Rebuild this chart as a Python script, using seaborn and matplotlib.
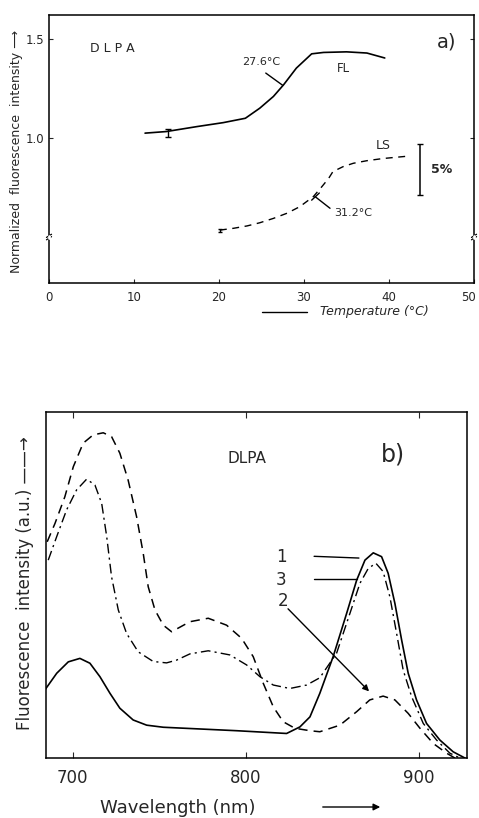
import matplotlib
matplotlib.use("Agg")
import matplotlib.pyplot as plt
from matplotlib.transforms import ScaledTranslation
import seaborn as sns
import pandas as pd

# ---------------- Data: panel a ----------------
fl_temp = [11.3, 13.8, 17.4, 20.5, 23.1, 24.8, 26.4, 27.6, 29.1, 30.9, 32.3, 35.0, 37.4, 39.5]
fl_int = [1.024, 1.032, 1.057, 1.077, 1.099, 1.150, 1.209, 1.268, 1.352, 1.424, 1.431, 1.434, 1.428, 1.403]
ls_temp = [20.1, 21.7, 23.3, 24.8, 26.4, 28.0, 29.5, 31.1, 32.1, 32.9, 33.4, 34.6, 35.8, 37.4, 39.3, 42.5]
ls_int = [0.535, 0.544, 0.556, 0.572, 0.594, 0.620, 0.653, 0.704, 0.754, 0.796, 0.830, 0.855,
          0.872, 0.885, 0.896, 0.909]
a_xticks = [0, 10, 20, 30, 40, 50]
a_yticks = [1.0, 1.5]
a_ytick_labels = ["1.0", "1.5"]

# ---------------- Data: panel b ----------------
wl_1 = [684.0, 690.8, 697.5, 704.2, 710.0, 715.8, 721.6, 727.3, 735.0, 742.8, 752.4, 794.8,
        823.7, 831.4, 837.2, 842.9, 850.6, 858.4, 864.2, 869.0, 873.8, 878.6, 882.4, 886.3,
        890.2, 894.0, 898.8, 904.6, 912.3, 920.0, 926.8]
int_1 = [0.197, 0.245, 0.278, 0.288, 0.274, 0.235, 0.187, 0.144, 0.110, 0.095, 0.089, 0.079,
         0.071, 0.090, 0.119, 0.187, 0.293, 0.418, 0.514, 0.572, 0.593, 0.582, 0.534, 0.447,
         0.341, 0.245, 0.168, 0.100, 0.052, 0.018, 0.000]
wl_2 = [685.3, 689.8, 695.5, 700.4, 706.1, 711.9, 717.7, 722.5, 727.3, 732.1, 737.0, 740.8,
        743.7, 747.6, 752.4, 757.2, 767.8, 778.4, 789.0, 797.7, 804.4, 810.2, 816.0, 821.7,
        828.5, 837.2, 842.9, 854.5, 864.2, 871.8, 879.5, 886.3, 894.0, 900.8, 908.5, 916.2, 921.0]
int_2 = [0.625, 0.678, 0.755, 0.842, 0.910, 0.934, 0.940, 0.929, 0.881, 0.803, 0.697, 0.592,
         0.495, 0.428, 0.384, 0.365, 0.394, 0.404, 0.384, 0.346, 0.293, 0.216, 0.148, 0.105,
         0.086, 0.079, 0.076, 0.095, 0.134, 0.168, 0.179, 0.168, 0.129, 0.086, 0.042, 0.014, 0.000]
wl_3 = [685.9, 690.8, 696.5, 702.3, 708.1, 712.9, 716.8, 719.7, 722.5, 726.4, 731.2, 737.9,
        746.6, 754.3, 760.1, 767.8, 778.4, 790.9, 800.6, 808.3, 816.0, 825.6, 835.3, 842.9,
        852.6, 860.3, 866.1, 870.9, 875.3, 879.5, 883.4, 887.3, 891.1, 896.0, 902.7, 910.4,
        918.1, 923.9]
int_3 = [0.572, 0.640, 0.717, 0.775, 0.806, 0.789, 0.736, 0.640, 0.524, 0.428, 0.360, 0.307,
         0.279, 0.275, 0.283, 0.301, 0.310, 0.298, 0.269, 0.235, 0.211, 0.201, 0.211, 0.232,
         0.303, 0.418, 0.505, 0.548, 0.563, 0.539, 0.466, 0.360, 0.254, 0.177, 0.100, 0.052,
         0.014, 0.000]
b_xticks = [700, 800, 900]

# ---------------- Figure ----------------
sns.set_style("ticks")
plt.rcParams["font.family"] = ["DejaVu Sans"]
fig = plt.figure(figsize=(4.79, 8.18), dpi=100)

# ===== Panel a =====
ax = fig.add_axes([0.1023, 0.654, 0.8873, 0.3277])
dfa = pd.DataFrame({"T": fl_temp, "I": fl_int})
dfl = pd.DataFrame({"T": ls_temp, "I": ls_int})
sns.lineplot(data=dfa, x="T", y="I", ax=ax, color="black", lw=1.2, sort=False)
sns.lineplot(data=dfl, x="T", y="I", ax=ax, color="black", lw=1.0, linestyle=(0, (5, 4)), sort=False)
ax.errorbar([14.0], [1.025], yerr=0.022, color="black", capsize=2, lw=1)
ax.errorbar([ls_temp[0]], [ls_int[0]], yerr=0.008, color="black", capsize=1.5, lw=1)
ax.set_xlim(0, 50)
ax.set_ylim(0.268, 1.62)
ax.set_xticks(a_xticks)
ax.set_yticks(a_yticks)
ax.set_yticklabels(a_ytick_labels)
ax.tick_params(direction="in", length=3, labelsize=8.5, width=0.8, right=True)
ax.tick_params(axis="x", pad=6)
ax.set_xlabel("")
ax.set_ylabel("")
for s in ax.spines.values():
    s.set_linewidth(1.1)
    s.set_color("black")
lastlab = ax.get_xticklabels()[-1]
lastlab.set_transform(lastlab.get_transform() + ScaledTranslation(-4 / 72, 0, fig.dpi_scale_trans))

# annotations
ax.text(4.8, 1.45, "D L P A", fontsize=9, va="center", ha="left")
ax.text(45.6, 1.485, "a)", fontsize=14, va="center", ha="left")
ax.text(25.0, 1.385, "27.6°C", fontsize=8, ha="center", va="center")
ax.plot([25.5, 27.5], [1.327, 1.265], color="black", lw=1)
ax.text(34.6, 1.35, "FL", fontsize=8.5, ha="center", va="center")
ax.text(39.3, 0.96, "LS", fontsize=9, ha="center", va="center")
ax.plot([31.3, 33.06], [0.704, 0.645], color="black", lw=1)
ax.plot([30.9, 31.8], [0.686, 0.722], color="black", lw=1)
ax.text(35.8, 0.62, "31.2°C", fontsize=8, ha="center", va="center")
ax.errorbar([43.6], [0.841], yerr=0.129, color="black", capsize=2.5, lw=1.1)
ax.text(46.2, 0.84, "5%", fontsize=9, ha="center", va="center", fontweight="bold")

# axis break marks
for xb in (0, 1):
    for dy in (-0.006, 0.006):
        ax.plot([xb - 0.006, xb + 0.006], [0.5 + dy - 0.008, 0.5 + dy + 0.008],
                transform=ax.get_yaxis_transform(), color="black", lw=0.9, clip_on=False)
    ax.plot([xb, xb], [0.494, 0.506], transform=ax.get_yaxis_transform(), color="white",
            lw=2, clip_on=False, zorder=5)

fig.text(17 / 479, 0.815, "Normalized  fluorescence  intensity \u27f6", rotation=90,
         fontsize=9, ha="center", va="center")
fig.add_artist(plt.Line2D([262 / 479, 307 / 479], [1 - 312 / 818, 1 - 312 / 818],
                          color="black", lw=1))
fig.text(320 / 479, 1 - 312 / 818, "Temperature (°C)", fontsize=9, ha="left", va="center",
         style="italic")

# ===== Panel b =====
bx = fig.add_axes([0.096, 0.0733, 0.879, 0.423])
d1 = pd.DataFrame({"wl": wl_1, "I": int_1})
d2 = pd.DataFrame({"wl": wl_2, "I": int_2})
d3 = pd.DataFrame({"wl": wl_3, "I": int_3})
sns.lineplot(data=d1, x="wl", y="I", ax=bx, color="black", lw=1.2, sort=False)
sns.lineplot(data=d2, x="wl", y="I", ax=bx, color="black", lw=1.1, linestyle=(0, (6, 4)), sort=False)
sns.lineplot(data=d3, x="wl", y="I", ax=bx, color="black", lw=1.0, linestyle=(0, (7, 3, 1.5, 3)), sort=False)
bx.set_xlim(684.6, 928)
bx.set_ylim(0, 1.0)
bx.set_xticks(b_xticks)
bx.set_yticks([])
bx.tick_params(axis="x", direction="in", length=4, labelsize=12, pad=8, top=True)
bx.set_xlabel("")
bx.set_ylabel("")
for s in bx.spines.values():
    s.set_linewidth(1.1)
    s.set_color("black")

bx.text(801, 0.867, "DLPA", fontsize=11, ha="center", va="center")
bx.text(885, 0.876, "b)", fontsize=17, ha="center", va="center")
bx.text(820.7, 0.580, "1", fontsize=12, ha="center", va="center")
bx.plot([839.6, 865.5], [0.583, 0.578], color="black", lw=1)
bx.text(820.7, 0.514, "3", fontsize=12, ha="center", va="center")
bx.plot([839.6, 864.5], [0.518, 0.518], color="black", lw=1)
bx.text(821.5, 0.455, "2", fontsize=12, ha="center", va="center")
bx.annotate("", xy=(872.5, 0.187), xytext=(823.4, 0.437),
            arrowprops=dict(arrowstyle="-|>", color="black", lw=1, mutation_scale=9))

fig.text(25 / 479, 1 - 583 / 818, "Fluorescence  intensity (a.u.) \u2014\u2014\u2192", rotation=90,
         fontsize=12, ha="center", va="center")
fig.text(178 / 479, 1 - 808 / 818, "Wavelength (nm)", fontsize=13, ha="center", va="center")
fig.add_artist(matplotlib.patches.FancyArrowPatch((320 / 479, 1 - 807 / 818), (383 / 479, 1 - 807 / 818),
                                                  transform=fig.transFigure, arrowstyle="-|>",
                                                  mutation_scale=10, color="black", lw=1))

fig.savefig("out.png", dpi=100)
